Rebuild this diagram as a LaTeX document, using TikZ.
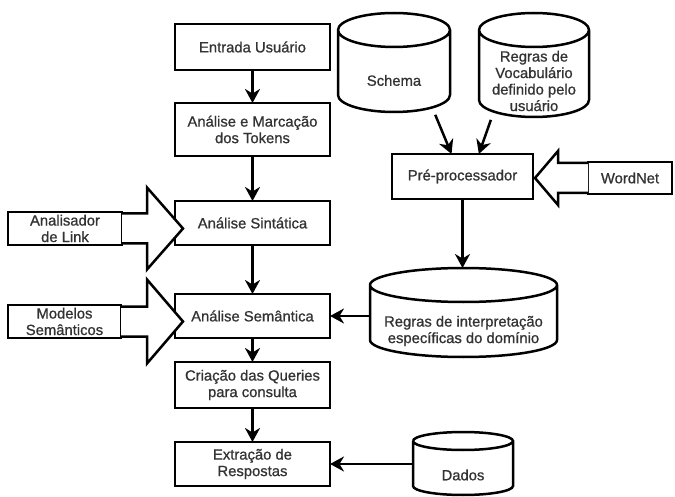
\documentclass[tikz,border=0pt]{standalone}
\usepackage{fontspec}
\setmainfont{Liberation Sans}
\newfontfamily\lblfont{Liberation Sans}[FakeBold=0.9]
\usetikzlibrary{arrows.meta,positioning,calc}

\newcommand{\lbl}{\lblfont\fontsize{14.8}{16.5}\selectfont}
% outline of a database cylinder around a named node
\newcommand{\dbdraw}[2]{%
  \draw[line] let \p1=(#1.north west), \p2=(#1.south east), \n1={(\x2-\x1)/2} in
    (\x1,{\y1-#2}) -- (\x1,{\y2+#2})
      arc[start angle=180, end angle=360, x radius=\n1, y radius=#2]
      -- (\x2,{\y1-#2})
      arc[start angle=0, end angle=180, x radius=\n1, y radius=#2]
    (\x1,{\y1-#2}) arc[start angle=180, end angle=360, x radius=\n1, y radius=#2];}

\begin{document}
\begin{tikzpicture}[
  x=1pt, y=1pt,
  line/.style={line width=2.5pt},
  box/.style={draw, line width=2.5pt, minimum width=155pt, minimum height=44pt,
              align=center, inner sep=0pt, outer sep=0pt, font=\lbl, text=black!80},
  side/.style={box, minimum height=33pt},
  db/.style={inner sep=0pt, outer sep=0pt},
  dbtext/.style={align=center, inner sep=0pt, font=\lbl, text=black!80},
  arr/.style={-{Stealth[length=14pt, width=15pt, inset=4.5pt]}, line width=2.5pt},
  fat/.style={draw, line width=2.5pt, fill=white, line join=miter}
]
\useasboundingbox (0,0) rectangle (675,-497);

% main column
\node[box, minimum height=46pt] (entrada) at (252.5,-47) {Entrada Usuário};
\node[box, minimum height=53pt, below=33pt of entrada] (tokens) {Análise e Marcação\\dos Tokens};
\node[box, below=45pt of tokens] (sint) {Análise Sintática};
\node[box, below=49pt of sint] (sem) {Análise Semântica};
\node[box, minimum height=46pt, below=24pt of sem] (queries) {Criação das Queries\\para consulta};
\node[box, below=34pt of queries] (extr) {Extração de\\Respostas};

% inputs on the left
\node[side, minimum width=114pt] (link) at (65,-228.5) {Analisador\\de Link};
\node[side, minimum width=113pt] (modelos) at (64.5,-321.5) {Modelos\\Semânticos};

% right side
\node[box, minimum width=141pt, minimum height=45pt] (pre) at (462.5,-176.5) {Pré-processador};
\node[side, minimum width=84pt, minimum height=32pt] (wn) at (630,-178) {WordNet};

\node[db, minimum width=112pt, minimum height=99pt] (schema) at (394,-62.5) {};
\node[dbtext] (schemaT) at ($(schema)+(0,-18)$) {Schema};
\node[db, minimum width=110pt, minimum height=104pt] (vocab) at (534,-65) {};
\node[dbtext] (vocabT) at ($(vocab)+(0,-16)$) {Regras de\\Vocabulário\\definido pelo\\usuário};
\node[db, minimum width=187pt, minimum height=89pt] (interp) at (463.5,-312.5) {};
\node[dbtext] (interpT) at ($(interp)+(0,-18.5)$) {Regras de interpretação\\específicas do domínio};
\node[db, minimum width=100pt, minimum height=63pt] (dados) at (463,-463.5) {};
\node[dbtext] (dadosT) at ($(dados)+(0,-11.5)$) {Dados};

\dbdraw{schema}{17pt}
\dbdraw{vocab}{17pt}
\dbdraw{interp}{17pt}
\dbdraw{dados}{9pt}

\draw[arr] (entrada) -- (tokens);
\draw[arr] (tokens) -- (sint);
\draw[arr] (sint) -- (sem);
\draw[arr] (sem) -- (queries);
\draw[arr] (queries) -- (extr);
\draw[arr, shorten <=3pt] (schema.-51) -- (pre.116);
\draw[arr, shorten <=3pt] (vocab.231) -- (pre.54);
\draw[arr] (pre.south) -- (pre.south |- interp.north);
\draw[arr] (interp.west |- sem.east) -- (sem.east);
\draw[arr] (dados.west |- extr.east) -- (extr.east);

% block arrows
\coordinate (lt) at ($(sint.west |- link.east)+(8,0)$);
\draw[fat] ($(link.east)+(0,15)$) -- ($(lt)+(-36,15)$) -- ($(lt)+(-36,41)$) -- (lt)
  -- ($(lt)+(-36,-41)$) -- ($(lt)+(-36,-15)$) -- ($(link.east)+(0,-15)$);
\coordinate (mt) at ($(sem.west |- modelos.east)+(8,0)$);
\draw[fat] ($(modelos.east)+(0,15)$) -- ($(mt)+(-36,15)$) -- ($(mt)+(-36,42)$) -- (mt)
  -- ($(mt)+(-36,-42)$) -- ($(mt)+(-36,-15)$) -- ($(modelos.east)+(0,-15)$);
\coordinate (wt) at ($(pre.east |- wn.west)+(2,0)$);
\draw[fat] ($(wn.west)+(0,15)$) -- ($(wt)+(23,15)$) -- ($(wt)+(23,27)$) -- (wt)
  -- ($(wt)+(23,-27)$) -- ($(wt)+(23,-15)$) -- ($(wn.west)+(0,-15)$);
\end{tikzpicture}
\end{document}
